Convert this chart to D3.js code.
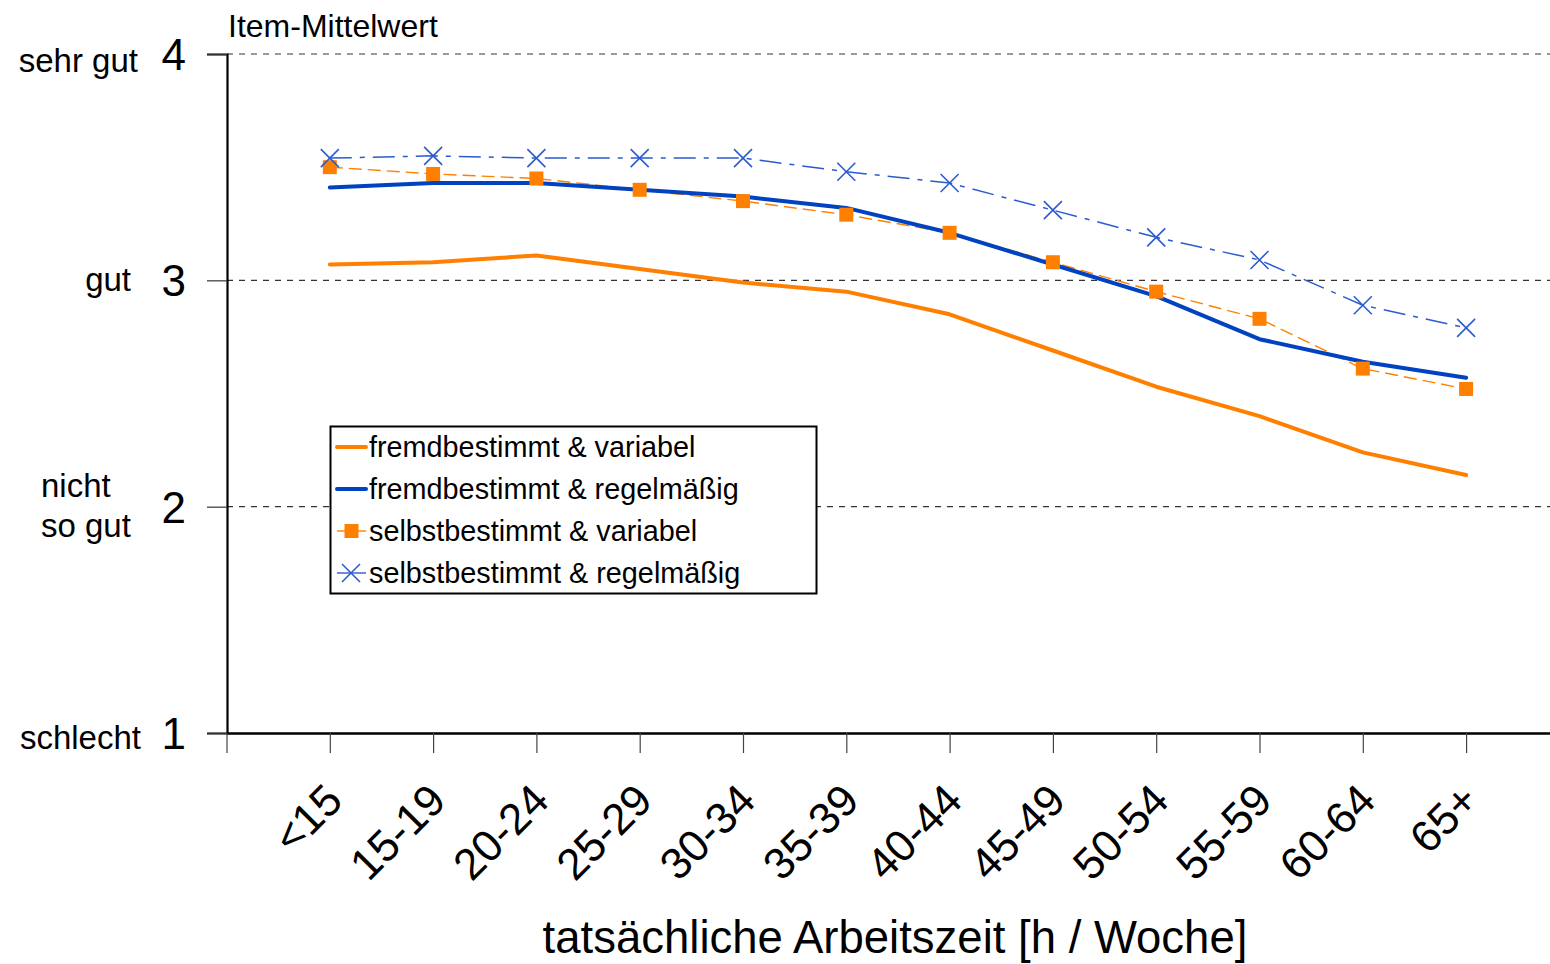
<!DOCTYPE html>
<html><head><meta charset="utf-8">
<script src="https://cdn.jsdelivr.net/npm/d3@7"></script>
<style>body{margin:0;background:#fff;} svg{display:block;font-family:"Liberation Sans",Arial,sans-serif;}</style>
</head><body>
<svg id="c" width="1550" height="964"></svg>
<script>
const categories = ["<15","15-19","20-24","25-29","30-34","35-39","40-44","45-49","50-54","55-59","60-64","65+"];
const fremdVariabel   = [3.07,3.08,3.11,3.05,2.99,2.95,2.85,2.69,2.53,2.40,2.24,2.14];
const fremdRegel      = [3.41,3.43,3.43,3.40,3.37,3.32,3.21,3.07,2.93,2.74,2.64,2.57];
const selbstVariabel  = [3.50,3.47,3.45,3.40,3.35,3.29,3.21,3.08,2.95,2.83,2.61,2.52];
const selbstRegel     = [3.54,3.55,3.54,3.54,3.54,3.48,3.43,3.31,3.19,3.09,2.89,2.79];
const seriesNames = ["fremdbestimmt & variabel","fremdbestimmt & regelmäßig","selbstbestimmt & variabel","selbstbestimmt & regelmäßig"];
const yTicks = [1,2,3,4];
const yTickLabels = ["schlecht","nicht\nso gut","gut","sehr gut"];
const yAxisTitle = "Item-Mittelwert";
const xAxisTitle = "tatsächliche Arbeitszeit [h / Woche]";

const ORANGE = "#ff8000", BLUE = "#0042c0", LBLUE = "#2a5bd0";
const svg = d3.select("#c");
const x = d3.scaleLinear().domain([0,13]).range([226.5, 226.5 + 13*103.3]);
const y = d3.scaleLinear().domain([1,4]).range([733,54]);

// gridlines
svg.append("g").selectAll("line").data(yTicks.filter(t=>t>1)).join("line")
  .attr("x1",227).attr("x2",1550).attr("y1",d=>y(d)).attr("y2",d=>y(d))
  .attr("stroke","#333").attr("stroke-width",1.2).attr("stroke-dasharray","6,6");

// y axis
const yAx = svg.append("g").attr("transform","translate(227,0)")
  .call(d3.axisLeft(y).tickValues(yTicks).tickSize(20).tickFormat(""));
yAx.select(".domain").attr("stroke","#000").attr("stroke-width",2.2);
yAx.selectAll(".tick line").attr("stroke","#333").attr("stroke-width",1.2);

// x axis
const xAx = svg.append("g").attr("transform","translate(0,733)")
  .call(d3.axisBottom(x).tickValues(d3.range(0,14)).tickSize(20).tickSizeOuter(0).tickFormat(""));
xAx.select(".domain").attr("stroke","#000").attr("stroke-width",2.6);
xAx.selectAll(".tick line").attr("stroke","#444").attr("stroke-width",1.2);

// x tick labels
svg.append("g").selectAll("text").data(categories).join("text")
  .attr("transform",(d,i)=>`translate(${x(i+1)+4},${792}) rotate(-45)`)
  .attr("text-anchor","end").attr("font-size",44).attr("dy","0.35em").text(d=>d);

// y numbers
svg.append("g").selectAll("text").data(yTicks).join("text")
  .attr("x",186).attr("y",d=>y(d)).attr("dy","0.36em").attr("text-anchor","end")
  .attr("font-size",44).text(d=>d);

// y verbal labels
const yl = svg.append("g").attr("font-size",33);
yl.append("text").attr("x",138).attr("y",y(4)+4).attr("dy","0.42em").attr("text-anchor","end").text(yTickLabels[3]);
yl.append("text").attr("x",131).attr("y",y(3)).attr("dy","0.32em").attr("text-anchor","end").text(yTickLabels[2]);
const nl = yTickLabels[1].split("\n");
yl.append("text").attr("x",41).attr("y",y(2)-10).text(nl[0]);
yl.append("text").attr("x",41).attr("y",y(2)+30).text(nl[1]);
yl.append("text").attr("x",141).attr("y",y(1)+2).attr("dy","0.42em").attr("text-anchor","end").text(yTickLabels[0]);

// axis titles
svg.append("text").attr("x",228).attr("y",37).attr("font-size",32).text(yAxisTitle);
svg.append("text").attr("x",895).attr("y",953).attr("font-size",45.5).attr("text-anchor","middle").text(xAxisTitle);

const line = d3.line().x((d,i)=>x(i+1)).y(d=>y(d));

// selbst regel (x markers)
svg.append("path").datum(selbstRegel).attr("d",line).attr("fill","none")
  .attr("stroke",LBLUE).attr("stroke-width",1.5).attr("stroke-dasharray","22,8,5,8");
// selbst variabel (squares)
svg.append("path").datum(selbstVariabel).attr("d",line).attr("fill","none")
  .attr("stroke",ORANGE).attr("stroke-width",1.4).attr("stroke-dasharray","13,6");
// fremd variabel
svg.append("path").datum(fremdVariabel).attr("d",line).attr("fill","none")
  .attr("stroke",ORANGE).attr("stroke-width",4).attr("stroke-linejoin","round").attr("stroke-linecap","round");
// fremd regel
svg.append("path").datum(fremdRegel).attr("d",line).attr("fill","none")
  .attr("stroke",BLUE).attr("stroke-width",4).attr("stroke-linejoin","round").attr("stroke-linecap","round");

// markers
svg.append("g").selectAll("rect").data(selbstVariabel).join("rect")
  .attr("x",(d,i)=>x(i+1)-7).attr("y",d=>y(d)-7).attr("width",14).attr("height",14).attr("fill",ORANGE);
const xm = svg.append("g").attr("stroke",LBLUE).attr("stroke-width",1.6);
selbstRegel.forEach((d,i)=>{
  const cx=x(i+1), cy=y(d), r=9;
  xm.append("line").attr("x1",cx-r).attr("y1",cy-r).attr("x2",cx+r).attr("y2",cy+r);
  xm.append("line").attr("x1",cx-r).attr("y1",cy+r).attr("x2",cx+r).attr("y2",cy-r);
});

// legend
const lg = svg.append("g");
lg.append("rect").attr("x",330.5).attr("y",426.5).attr("width",486).attr("height",167)
  .attr("fill","#fff").attr("stroke","#000").attr("stroke-width",2);
const rowY = [447,489,531,573];
seriesNames.forEach((n,i)=>{
  const cy=rowY[i];
  if(i===0||i===1){
    lg.append("line").attr("x1",337).attr("x2",366).attr("y1",cy).attr("y2",cy)
      .attr("stroke",i===0?ORANGE:BLUE).attr("stroke-width",4).attr("stroke-linecap","round");
  } else if(i===2){
    lg.append("line").attr("x1",337).attr("x2",366).attr("y1",cy).attr("y2",cy).attr("stroke",ORANGE).attr("stroke-width",1.4);
    lg.append("rect").attr("x",344.5).attr("y",cy-7).attr("width",14).attr("height",14).attr("fill",ORANGE);
  } else {
    lg.append("line").attr("x1",337).attr("x2",366).attr("y1",cy).attr("y2",cy).attr("stroke",LBLUE).attr("stroke-width",1.4);
    lg.append("line").attr("x1",342).attr("x2",360).attr("y1",cy-9).attr("y2",cy+9).attr("stroke",LBLUE).attr("stroke-width",1.6);
    lg.append("line").attr("x1",342).attr("x2",360).attr("y1",cy+9).attr("y2",cy-9).attr("stroke",LBLUE).attr("stroke-width",1.6);
  }
  lg.append("text").attr("x",369).attr("y",cy).attr("dy","0.35em").attr("font-size",28.8).text(n);
});
</script>
</body></html>
